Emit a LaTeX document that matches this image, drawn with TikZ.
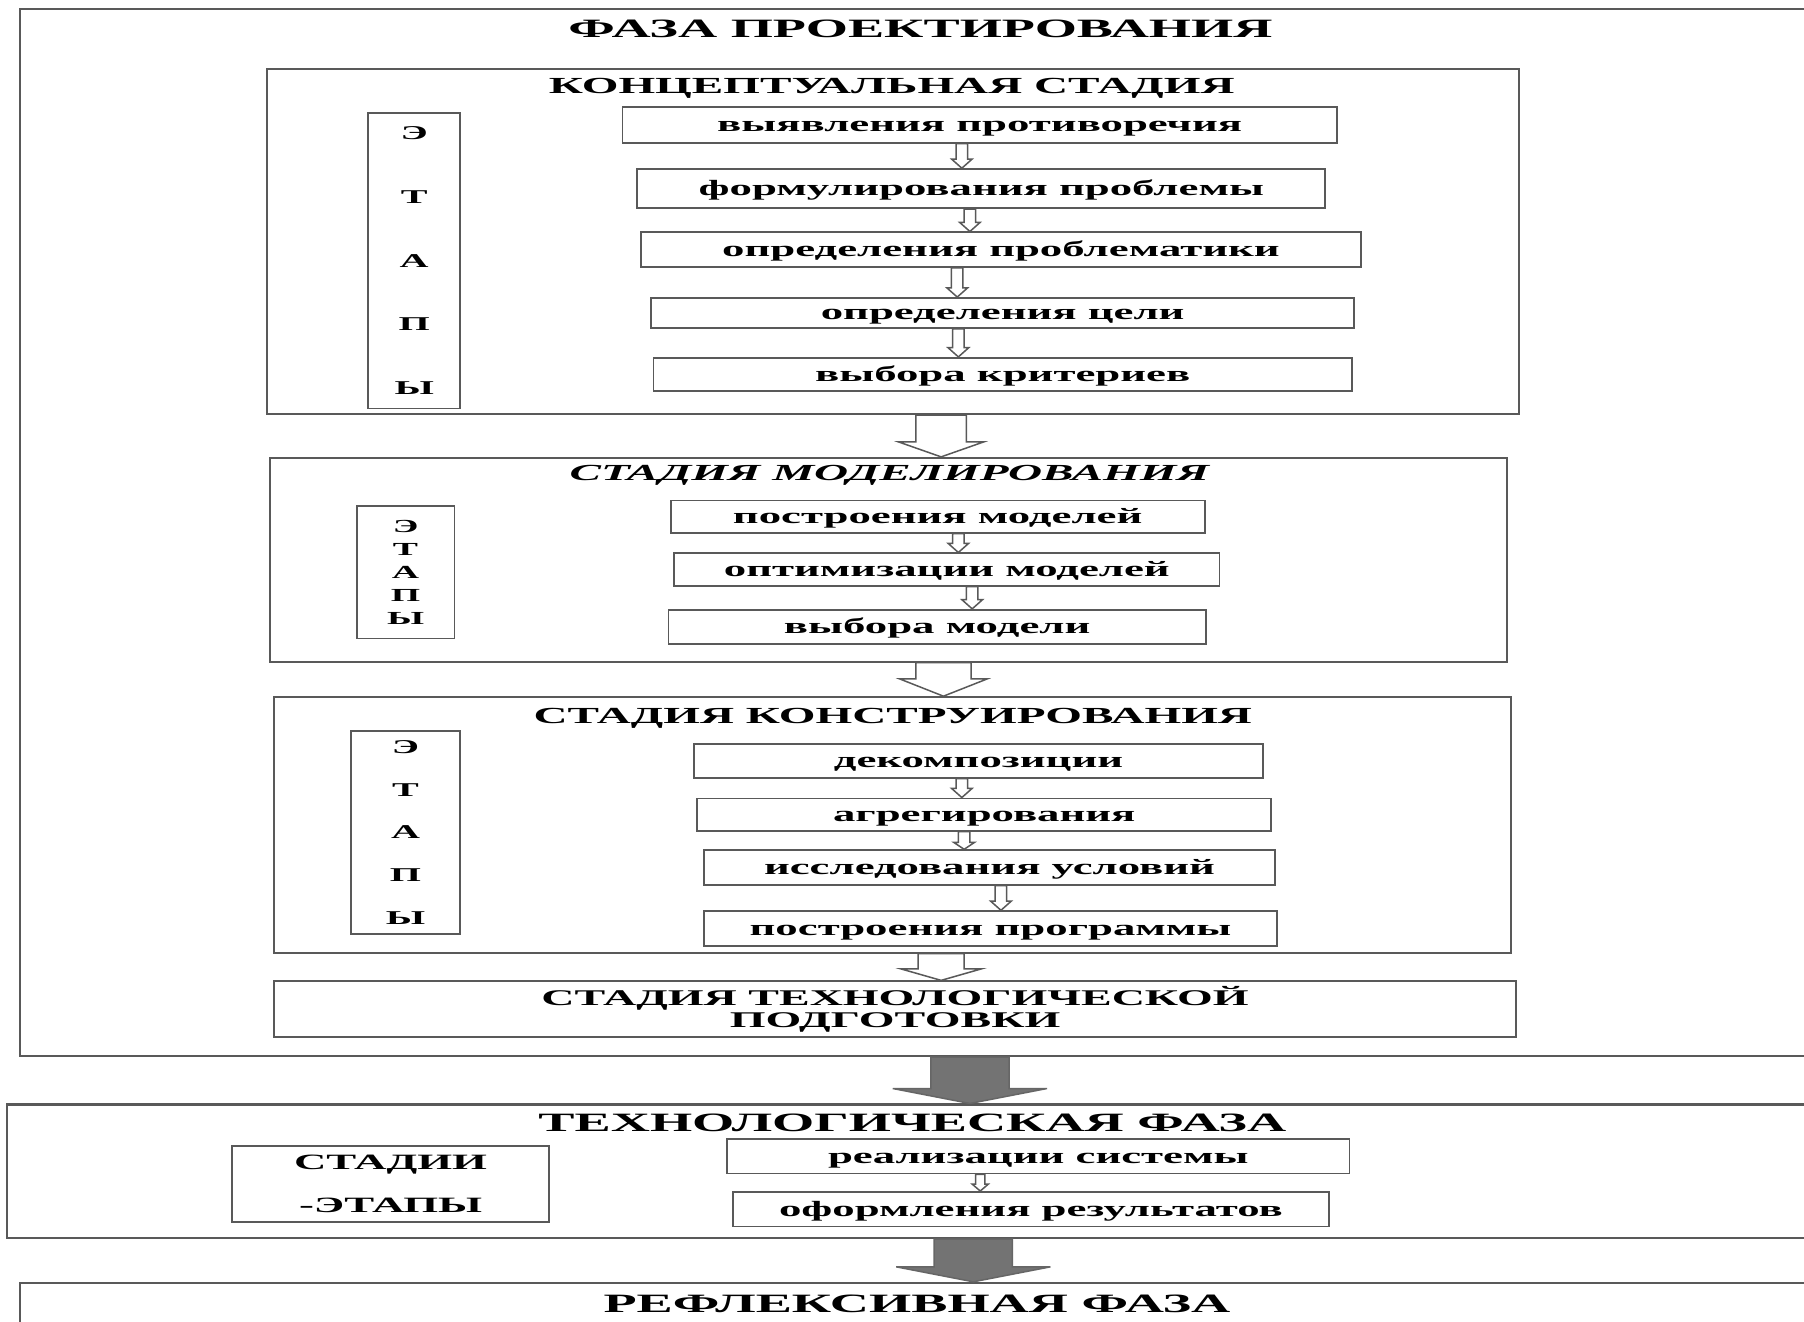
\documentclass[tikz,border=0pt]{standalone}
\usepackage{fontspec}
\usetikzlibrary{calc}
\newfontfamily\widefont[FakeStretch=2.05]{Liberation Serif}
\definecolor{lc}{gray}{0.35}
\definecolor{gfill}{gray}{0.45}
\newcommand\blockarrow[7]{%
  \draw[#1] let \p1=(#2.south), \p2=(#3.north) in
   ({(#4-#5)*1pt},\y1) -- ({(#4-#5)*1pt},\y2+#7pt) -- ({(#4-#6)*1pt},\y2+#7pt) --
   ({#4*1pt},\y2) -- ({(#4+#6)*1pt},\y2+#7pt) -- ({(#4+#5)*1pt},\y2+#7pt) --
   ({(#4+#5)*1pt},\y1) -- cycle;}
\newcommand\lblfont{\widefont\bfseries\fontsize{19}{22}\selectfont}
\newcommand\phasefont{\widefont\bfseries\fontsize{23}{26}\selectfont}
\newcommand\stagefont{\widefont\bfseries\fontsize{20}{24}\selectfont}
\tikzset{
  frame/.style={draw=lc, line width=1.8pt, inner sep=0pt},
  box/.style={draw=lc, line width=1.6pt, inner sep=0pt, font=\lblfont,
              text height=14pt, text depth=2pt},
  etbox/.style={draw=lc, line width=1.6pt, inner sep=0pt, align=center},
  phasettl/.style={inner sep=0pt, font=\phasefont, text height=15pt, text depth=0pt},
  stagettl/.style={inner sep=0pt, font=\stagefont, text height=13pt, text depth=0pt},
  harr/.style={draw=lc, line width=1.3pt, fill=white},
  garr/.style={draw=black!60, line width=1.3pt, fill=gfill},
}
\begin{document}
\begin{tikzpicture}[x=1pt,y=-1pt]
\useasboundingbox[fill=white] (0,0) rectangle (1568,1149);
% project phase frame
\node[frame, minimum width=1603, minimum height=910] (proj) at (818.5,463) {};
\node[phasettl] (projt) at (800,25) {ФАЗА ПРОЕКТИРОВАНИЯ};
% conceptual stage
\node[frame, minimum width=1088, minimum height=300] (conc) at (776,210) {};
\node[stagettl] (conct) at (775,75) {КОНЦЕПТУАЛЬНАЯ СТАДИЯ};
\node[etbox, minimum width=80, minimum height=257,
      font=\widefont\bfseries\fontsize{17}{55.5}\selectfont] (e1) at (360,226.5) {Э\\Т\\А\\П\\Ы};
\node[box, minimum width=621, minimum height=31] (c1) at (851.5,108.5) {выявления противоречия};
\node[box, minimum width=598, minimum height=34] (c2) at (853,164) {формулирования проблемы};
\node[box, minimum width=626, minimum height=30] (c3) at (870,217) {определения проблематики};
\node[box, minimum width=611, minimum height=26] (c4) at (871.5,272) {определения цели};
\node[box, minimum width=607, minimum height=29] (c5) at (871.5,325.5) {выбора критериев};
\blockarrow{harr}{c1}{c2}{836}{5}{9}{8}
\blockarrow{harr}{c2}{c3}{843}{5}{9}{8}
\blockarrow{harr}{c3}{c4}{832}{5}{9}{8}
\blockarrow{harr}{c4}{c5}{833}{5}{9}{8}
% modelling stage
\node[frame, minimum width=1075, minimum height=177] (mod) at (772.5,486.5) {};
\node[stagettl, font=\stagefont\itshape] (modt) at (773,411) {СТАДИЯ МОДЕЛИРОВАНИЯ};
\blockarrow{harr}{conc}{mod}{818}{22}{37}{13}
\node[etbox, minimum width=85, minimum height=115,
      font=\widefont\bfseries\fontsize{16}{20}\selectfont] (e2) at (352.5,497.5) {Э\\Т\\А\\П\\Ы};
\node[box, minimum width=464, minimum height=28] (m1) at (815,449) {построения моделей};
\node[box, minimum width=474, minimum height=28] (m2) at (823,495) {оптимизации моделей};
\node[box, minimum width=467, minimum height=30] (m3) at (814.5,545) {выбора модели};
\blockarrow{harr}{m1}{m2}{833}{5}{9}{8}
\blockarrow{harr}{m2}{m3}{845}{5}{9}{8}
% construction stage
\node[frame, minimum width=1075, minimum height=222] (cons) at (775.5,717) {};
\node[stagettl] (const) at (776,622) {СТАДИЯ КОНСТРУИРОВАНИЯ};
\blockarrow{harr}{mod}{cons}{820}{24}{38}{15}
\node[etbox, minimum width=95, minimum height=177,
      font=\widefont\bfseries\fontsize{17}{37}\selectfont] (e3) at (352.5,723.5) {Э\\Т\\А\\П\\Ы};
\node[box, minimum width=495, minimum height=29] (k1) at (850.5,661.5) {декомпозиции};
\node[box, minimum width=499, minimum height=28] (k2) at (855.5,708) {агрегирования};
\node[box, minimum width=496, minimum height=30] (k3) at (860,754) {исследования условий};
\node[box, minimum width=498, minimum height=30] (k4) at (861,807) {построения программы};
\blockarrow{harr}{k1}{k2}{836}{5}{9}{8}
\blockarrow{harr}{k2}{k3}{838}{5}{9}{6}
\blockarrow{harr}{k3}{k4}{870}{5}{9}{8}
% technological preparation
\node[frame, minimum width=1080, minimum height=48, align=center,
      font=\widefont\bfseries\fontsize{19.5}{19}\selectfont] (prep) at (778,877) {СТАДИЯ ТЕХНОЛОГИЧЕСКОЙ\\ПОДГОТОВКИ};
\blockarrow{harr}{cons}{prep}{818}{20}{35}{10}
% technological phase
\node[frame, minimum width=1614, minimum height=116] (tech) at (813,1018) {};
\node[phasettl] (techt) at (793,976) {ТЕХНОЛОГИЧЕСКАЯ ФАЗА};
\blockarrow{garr}{proj}{tech}{843}{34}{67}{13}
\node[etbox, minimum width=275, minimum height=66,
      font=\widefont\bfseries\fontsize{19}{38}\selectfont] (se) at (339.5,1029) {СТАДИИ\\-ЭТАПЫ};
\node[box, minimum width=541, minimum height=30] (t1) at (902.5,1005) {реализации системы};
\node[box, minimum width=518, minimum height=30] (t2) at (896,1051) {оформления результатов};
\blockarrow{harr}{t1}{t2}{852}{4}{7}{6}
% reflexive phase
\node[frame, minimum width=1603, minimum height=85] (refl) at (818.5,1157.5) {};
\node[phasettl] (reflt) at (797,1133) {РЕФЛЕКСИВНАЯ ФАЗА};
\blockarrow{garr}{tech}{refl}{846}{34}{67}{13}
\end{tikzpicture}
\end{document}
